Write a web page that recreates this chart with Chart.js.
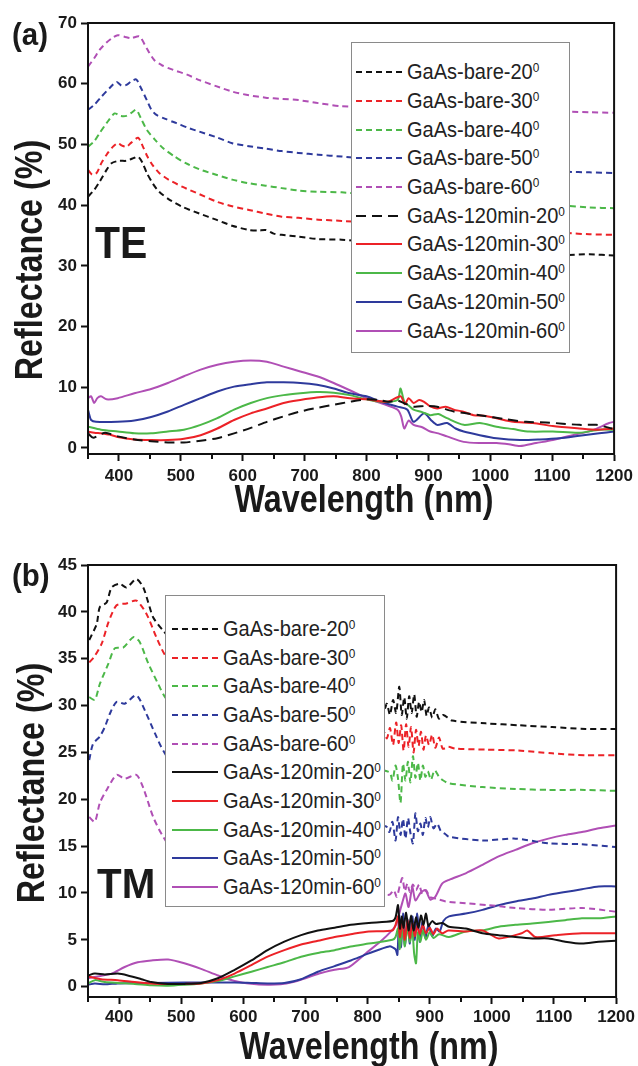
<!DOCTYPE html>
<html>
<head>
<meta charset="utf-8">
<title>GaAs reflectance TE / TM</title>
<script src="https://cdn.jsdelivr.net/npm/chart.js@4.4.0/dist/chart.umd.min.js"></script>
<style>
  body{margin:0;background:#fff;font-family:Arial,"Liberation Sans",sans-serif;}
  #page{position:relative;width:638px;height:1066px;overflow:hidden;background:#fff}
  .panel{position:absolute;left:0;width:638px}
  .txt{position:absolute;font-weight:bold;color:#1a1a1a;white-space:nowrap;line-height:1}
  .legend{position:absolute;background:#fff;border:1.5px solid #8a8a8a;box-sizing:border-box}
  .legend .row{display:flex;align-items:center;height:28.7px}
  .legend svg{flex:none}
  .legend .name{font-size:22px;color:#222;transform:scaleX(0.91);transform-origin:left center;white-space:nowrap}
  .legend sup{font-size:13px;vertical-align:7px}
</style>
</head>
<body>
<div id="page">
  <div class="panel" style="top:0;height:530px"><canvas id="chart-te"></canvas></div>
  <div class="panel" style="top:540px;height:526px"><canvas id="chart-tm"></canvas></div>

  <div class="txt" style="left:12px;top:18px;font-size:32px;transform:scaleX(0.92);transform-origin:left top">(a)</div>
  <div class="txt" style="left:95px;top:221px;font-size:44px;transform:scaleX(0.93);transform-origin:left top">TE</div>
  <div class="txt" style="left:28.5px;top:260px;font-size:38px;transform:translate(-50%,-50%) rotate(-90deg) scaleX(0.85)">Reflectance (%)</div>
  <div class="txt" style="left:364px;top:480px;font-size:38px;transform:translateX(-50%) scaleX(0.85)">Wavelength (nm)</div>

  <div class="txt" style="left:12px;top:559px;font-size:32px;transform:scaleX(0.92);transform-origin:left top">(b)</div>
  <div class="txt" style="left:97px;top:863px;font-size:42px;transform:scaleX(0.96);transform-origin:left top">TM</div>
  <div class="txt" style="left:30.5px;top:783px;font-size:38px;transform:translate(-50%,-50%) rotate(-90deg) scaleX(0.85)">Reflectance (%)</div>
  <div class="txt" style="left:369px;top:1027px;font-size:38px;transform:translateX(-50%) scaleX(0.85)">Wavelength (nm)</div>

  <div id="legend-te" class="legend" style="left:351px;top:42px;width:219px;height:311px;padding-top:15px"></div>
  <div id="legend-tm" class="legend" style="left:165px;top:595px;width:220px;height:312px;padding-top:18.5px"></div>
</div>

<script>
// GaAs reflectance vs wavelength, bare wafer vs 120 min etched, 20-60 deg incidence
// values, [wavelength nm, reflectance %]

// x axis (shared)
const xMajorTicks = [400,500,600,700,800,900,1000,1100,1200];
const xMinorTicks = [350,450,550,650,750,850,950,1050,1150];

// y axes
const yTicksTE = [0,10,20,30,40,50,60,70];
const yTicksTM = [0,5,10,15,20,25,30,35,40,45];

// ---- (a) TE ----
const teBare20 = [[350,41.4],[360,42.5],[369,43.9],[380,45.8],[388,46.9],[400,47.3],[412,47.3],[425,47.8],[431,48.0],[438,47.0],[445,45.3],[455,43.5],[465,42.2],[480,41.0],[503,39.7],[530,38.6],[557,37.6],[583,36.6],[610,35.9],[625,35.8],[637,35.9],[650,35.3],[663,35.1],[690,34.8],[722,34.4],[760,34.3],[850,33.5],[950,32.8],[1050,32.3],[1124,31.8],[1160,31.9],[1200,31.7]];
const teBare30 = [[350,45.8],[357,45.0],[364,45.3],[372,47.0],[380,48.3],[390,49.6],[398,50.2],[405,49.8],[412,49.6],[420,50.3],[431,51.1],[438,49.8],[446,48.0],[455,46.5],[465,45.3],[480,44.2],[503,43.0],[530,41.8],[557,40.6],[583,39.8],[610,39.2],[637,38.6],[663,38.1],[690,37.9],[722,37.6],[760,37.4],[850,36.8],[950,36.2],[1050,35.8],[1124,35.4],[1160,35.2],[1200,35.1]];
const teBare40 = [[350,49.6],[360,50.5],[369,51.9],[380,53.5],[393,55.1],[402,54.7],[412,54.7],[420,55.2],[428,55.7],[436,54.2],[445,52.4],[458,50.8],[471,49.4],[490,48.0],[508,46.9],[530,45.9],[557,45.0],[583,44.2],[610,43.6],[637,43.2],[663,42.8],[690,42.4],[722,42.2],[760,42.1],[850,41.3],[950,40.7],[1050,40.2],[1124,39.9],[1160,39.6],[1200,39.5]];
const teBare50 = [[350,55.7],[360,56.5],[372,57.9],[385,59.3],[396,60.3],[404,59.7],[412,59.8],[420,60.4],[428,60.7],[436,59.2],[445,57.3],[452,55.8],[460,54.9],[475,54.2],[493,53.5],[510,52.8],[530,52.1],[557,51.2],[583,50.2],[610,49.7],[637,49.3],[663,48.9],[690,48.6],[722,48.3],[760,48.0],[850,47.2],[950,46.4],[1050,45.9],[1124,45.5],[1160,45.4],[1200,45.3]];
const teBare60 = [[350,62.8],[360,64.2],[369,65.6],[380,66.8],[390,67.6],[398,68.0],[410,67.7],[420,67.5],[433,67.8],[445,65.8],[457,63.9],[470,63.0],[487,62.3],[510,61.5],[530,60.6],[557,59.6],[583,58.7],[610,58.1],[637,57.7],[663,57.5],[690,57.3],[722,56.8],[760,56.3],[850,56.0],[950,55.8],[1050,55.6],[1124,55.4],[1160,55.3],[1200,55.2]];
const te120_20 = [[350,2.4],[358,1.7],[366,2.0],[378,2.5],[398,1.9],[425,1.4],[452,1.1],[479,0.9],[505,0.9],[532,1.2],[559,1.6],[586,2.4],[613,3.3],[639,4.3],[666,5.2],[693,6.0],[720,6.6],[747,7.1],[773,7.6],[800,8.0],[820,7.9],[835,7.6],[850,7.8],[860,7.4],[876,6.8],[895,6.9],[914,6.8],[941,6.0],[983,5.4],[1026,4.7],[1058,4.3],[1090,4.2],[1117,4.0],[1144,3.8],[1171,3.8],[1197,3.2]];
const te120_30 = [[350,2.7],[360,2.5],[371,2.4],[385,2.2],[398,1.8],[425,1.4],[452,1.3],[479,1.3],[505,1.5],[532,2.1],[559,3.2],[586,4.6],[613,5.7],[639,6.5],[666,7.4],[693,7.9],[720,8.3],[747,8.5],[773,8.2],[800,8.0],[834,7.6],[855,8.5],[862,7.2],[868,8.2],[876,7.4],[885,7.9],[893,7.6],[902,6.9],[914,6.5],[928,6.8],[941,6.3],[955,6.0],[973,5.4],[990,5.3],[1010,4.9],[1037,4.3],[1069,4.1],[1101,3.6],[1144,3.2],[1171,3.0],[1200,3.2]];
const te120_40 = [[350,3.5],[371,3.0],[398,2.7],[425,2.4],[452,2.4],[479,2.7],[505,3.0],[532,3.8],[559,4.9],[586,6.3],[613,7.4],[639,8.2],[666,8.7],[693,9.0],[720,9.2],[747,9.1],[773,8.7],[800,8.0],[823,7.6],[850,7.9],[855,9.8],[861,7.6],[868,7.0],[876,6.3],[890,5.9],[903,5.4],[916,5.6],[930,4.9],[957,3.8],[983,4.1],[1010,3.5],[1037,3.1],[1063,2.7],[1101,2.7],[1144,2.5],[1176,3.0],[1200,3.0]];
const te120_50 = [[350,6.3],[352,5.5],[355,4.6],[363,4.3],[398,4.3],[425,4.5],[452,5.1],[479,6.0],[505,7.1],[532,8.2],[559,9.3],[586,10.1],[613,10.5],[639,10.8],[666,10.8],[693,10.7],[720,10.4],[747,9.8],[773,9.0],[800,8.5],[823,7.6],[850,6.8],[866,6.3],[876,4.3],[893,5.7],[904,4.6],[914,3.8],[930,4.1],[944,3.2],[957,2.7],[983,2.1],[1010,1.6],[1048,1.3],[1080,1.4],[1112,1.6],[1144,2.0],[1176,2.4],[1200,2.7]];
const te120_60 = [[350,8.2],[355,8.5],[360,7.4],[365,8.2],[371,8.5],[380,8.0],[398,8.2],[425,9.0],[452,9.7],[479,10.7],[505,11.8],[532,12.9],[559,13.7],[586,14.2],[613,14.4],[639,14.2],[666,13.4],[693,12.6],[720,11.8],[747,10.7],[773,9.5],[800,8.2],[823,7.4],[850,6.3],[856,5.2],[861,3.2],[868,4.5],[876,3.8],[890,3.4],[903,2.7],[916,2.4],[930,1.9],[957,1.0],[983,0.8],[1010,0.8],[1030,0.6],[1048,0.3],[1074,0.8],[1101,1.3],[1133,2.1],[1165,2.9],[1192,4.1],[1200,4.3]];

// ---- (b) TM ----
const tmBare20 = [[352,37.0],[364,38.7],[369,40.5],[380,41.0],[388,42.6],[401,43.0],[412,42.6],[428,43.5],[439,42.6],[447,41.0],[455,39.4],[471,38.0],[500,36.0],[600,32.5],[700,31.0],[800,30.0],[826,29.5],[831,30.2],[836,29.0],[841,30.6],[846,29.2],[851,32.0],[855,29.0],[859,30.9],[863,28.6],[867,31.0],[871,29.2],[875,31.2],[879,28.8],[883,30.4],[887,29.3],[891,30.6],[895,28.9],[899,29.8],[904,28.7],[909,29.6],[915,28.6],[922,29.0],[936,28.4],[990,28.1],[1043,27.9],[1097,27.7],[1151,27.5],[1200,27.5]];
const tmBare30 = [[352,34.6],[360,35.2],[372,36.6],[383,38.9],[396,40.7],[412,40.9],[428,41.2],[444,39.8],[460,37.3],[474,35.4],[500,33.5],[600,30.0],[700,28.3],[800,27.5],[826,27.2],[831,26.5],[836,27.6],[841,25.8],[846,28.2],[850,26.0],[854,27.9],[858,25.2],[862,28.0],[866,25.6],[870,27.7],[874,25.0],[878,27.4],[882,25.7],[886,27.2],[890,25.3],[894,26.8],[899,25.8],[904,26.9],[909,25.5],[915,26.6],[921,25.4],[930,25.6],[941,25.4],[990,25.3],[1043,25.2],[1097,24.9],[1151,24.7],[1200,24.7]];
const tmBare40 = [[352,30.9],[361,30.6],[369,32.3],[383,34.5],[393,36.1],[407,36.2],[423,37.3],[433,36.8],[447,34.5],[463,32.3],[474,30.9],[500,29.0],[600,25.5],[700,24.0],[800,23.3],[835,22.9],[840,22.0],[845,23.6],[849,22.2],[853,19.6],[857,23.8],[861,22.0],[865,24.0],[869,21.8],[873,24.6],[877,22.3],[881,23.9],[885,22.0],[889,23.6],[893,22.4],[897,23.0],[902,22.1],[908,23.1],[915,22.4],[922,22.0],[931,21.7],[985,21.3],[1038,21.1],[1091,21.0],[1150,21.0],[1200,20.9]];
const tmBare50 = [[352,24.2],[358,25.9],[369,26.7],[377,27.7],[385,29.1],[396,30.4],[409,30.2],[428,31.1],[444,29.1],[458,27.0],[471,25.2],[500,22.5],[600,19.5],[700,18.0],[800,17.3],[830,17.1],[835,16.5],[840,17.6],[845,15.6],[849,18.1],[853,16.2],[857,17.9],[861,15.8],[865,18.0],[869,16.4],[873,15.3],[877,18.5],[881,16.6],[885,17.4],[889,16.2],[893,18.0],[897,17.0],[901,18.1],[906,16.9],[912,17.4],[918,16.6],[925,16.3],[931,16.0],[985,15.6],[1038,15.8],[1091,15.3],[1145,15.2],[1200,14.9]];
const tmBare60 = [[352,18.1],[361,17.6],[369,19.6],[380,21.0],[396,22.6],[409,22.2],[428,22.6],[439,21.2],[455,18.1],[471,16.0],[500,13.5],[600,11.0],[700,10.3],[800,10.0],[835,9.8],[842,10.3],[847,9.6],[852,10.8],[856,11.6],[860,10.2],[864,11.0],[868,10.1],[873,10.9],[878,10.3],[883,10.9],[888,9.9],[894,10.3],[900,9.6],[910,9.4],[926,9.1],[958,8.9],[995,8.7],[1038,8.4],[1092,8.2],[1145,8.4],[1200,8.0]];
const tm120_20 = [[350,1.2],[361,1.4],[377,1.3],[398,1.4],[414,1.2],[436,0.8],[452,0.5],[479,0.3],[505,0.3],[532,0.4],[559,0.9],[586,1.8],[613,2.8],[639,3.9],[666,4.8],[693,5.5],[720,6.0],[747,6.3],[773,6.6],[802,6.8],[840,7.0],[845,7.4],[849,8.7],[852,6.2],[855,7.5],[858,6.3],[862,7.9],[866,6.0],[870,7.6],[874,6.0],[878,7.4],[882,6.3],[886,7.6],[890,6.6],[894,7.8],[898,6.5],[904,7.0],[910,6.7],[920,6.8],[931,6.4],[958,6.2],[985,5.7],[1011,5.5],[1038,5.3],[1065,5.15],[1091,5.15],[1118,4.8],[1145,4.6],[1172,4.8],[1200,4.9]];
const tm120_30 = [[350,1.1],[371,0.8],[398,0.7],[425,0.5],[452,0.35],[479,0.3],[505,0.3],[532,0.35],[559,0.7],[586,1.4],[613,2.3],[639,3.2],[666,3.9],[693,4.5],[720,4.9],[747,5.3],[773,5.6],[802,5.9],[840,6.0],[845,6.6],[849,7.5],[852,5.3],[856,7.0],[860,5.0],[864,7.1],[868,5.2],[872,6.8],[876,5.4],[880,6.5],[884,5.6],[889,6.6],[894,5.7],[900,6.3],[906,5.6],[912,6.2],[920,5.7],[930,6.0],[958,5.9],[985,6.0],[1011,5.15],[1048,5.7],[1057,6.0],[1070,5.3],[1102,5.5],[1145,5.7],[1200,5.7]];
const tm120_40 = [[350,0.35],[361,0.7],[377,0.5],[398,0.4],[425,0.3],[452,0.15],[479,0.1],[505,0.2],[532,0.35],[559,0.6],[586,1.1],[613,1.6],[639,2.1],[666,2.6],[693,3.2],[720,3.6],[747,3.9],[773,4.3],[802,4.6],[840,5.0],[845,5.3],[849,6.2],[852,4.0],[856,6.3],[860,4.3],[864,6.4],[868,4.8],[872,6.0],[875,3.5],[878,2.5],[881,5.8],[885,4.8],[889,6.0],[894,5.0],[900,5.8],[906,5.2],[915,5.6],[931,5.3],[958,5.9],[985,6.0],[1011,6.4],[1038,6.6],[1065,6.75],[1091,6.9],[1118,7.1],[1145,7.3],[1172,7.3],[1200,7.5]];
const tm120_50 = [[350,0.2],[361,0.35],[377,0.25],[398,0.35],[452,0.4],[505,0.45],[559,0.45],[586,0.45],[613,0.4],[639,0.35],[666,0.4],[693,0.8],[720,1.6],[747,2.2],[773,2.8],[802,3.55],[835,4.3],[845,4.0],[848,3.4],[851,7.6],[854,4.2],[857,7.8],[860,4.4],[864,7.2],[868,4.6],[872,7.5],[876,5.0],[880,7.8],[884,4.8],[888,6.9],[893,5.2],[898,6.6],[904,5.4],[910,6.2],[916,5.9],[922,7.0],[931,7.5],[958,7.8],[985,8.2],[1011,8.7],[1038,9.1],[1065,9.4],[1091,9.8],[1118,10.1],[1145,10.4],[1172,10.7],[1200,10.7]];
const tm120_60 = [[350,0.9],[366,1.1],[388,1.4],[409,2.1],[430,2.6],[452,2.8],[479,2.9],[505,2.5],[532,1.9],[559,1.2],[586,0.6],[613,0.3],[639,0.2],[660,0.25],[680,0.5],[700,0.9],[722,1.4],[747,1.8],[770,2.1],[797,3.55],[824,5.0],[845,6.5],[851,7.8],[856,9.0],[861,9.95],[866,8.5],[872,10.6],[877,9.2],[885,10.0],[893,10.3],[901,9.3],[909,9.6],[920,11.0],[931,11.4],[958,12.1],[985,13.0],[1011,13.9],[1038,14.6],[1065,15.3],[1091,15.8],[1118,16.2],[1145,16.5],[1172,16.9],[1200,17.2]];

// colours / dash styles
const BLACK = "#111111", RED = "#ec2227", GREEN = "#4cb848", BLUE = "#2e3a9c", MAGENTA = "#b04fb5";
const DASH_BARE = [6,4];
const DASH_LONG = [10,6];

const teSeries = [
  { label: "GaAs-bare-20", color: BLACK, dash: DASH_BARE, data: teBare20 },
  { label: "GaAs-bare-30", color: RED, dash: DASH_BARE, data: teBare30 },
  { label: "GaAs-bare-40", color: GREEN, dash: DASH_BARE, data: teBare40 },
  { label: "GaAs-bare-50", color: BLUE, dash: DASH_BARE, data: teBare50 },
  { label: "GaAs-bare-60", color: MAGENTA, dash: DASH_BARE, data: teBare60 },
  { label: "GaAs-120min-20", color: BLACK, dash: DASH_LONG, data: te120_20 },
  { label: "GaAs-120min-30", color: RED, dash: null, data: te120_30 },
  { label: "GaAs-120min-40", color: GREEN, dash: null, data: te120_40 },
  { label: "GaAs-120min-50", color: BLUE, dash: null, data: te120_50 },
  { label: "GaAs-120min-60", color: MAGENTA, dash: null, data: te120_60 },
];
const tmSeries = [
  { label: "GaAs-bare-20", color: BLACK, dash: DASH_BARE, data: tmBare20 },
  { label: "GaAs-bare-30", color: RED, dash: DASH_BARE, data: tmBare30 },
  { label: "GaAs-bare-40", color: GREEN, dash: DASH_BARE, data: tmBare40 },
  { label: "GaAs-bare-50", color: BLUE, dash: DASH_BARE, data: tmBare50 },
  { label: "GaAs-bare-60", color: MAGENTA, dash: DASH_BARE, data: tmBare60 },
  { label: "GaAs-120min-20", color: BLACK, dash: null, data: tm120_20 },
  { label: "GaAs-120min-30", color: RED, dash: null, data: tm120_30 },
  { label: "GaAs-120min-40", color: GREEN, dash: null, data: tm120_40 },
  { label: "GaAs-120min-50", color: BLUE, dash: null, data: tm120_50 },
  { label: "GaAs-120min-60", color: MAGENTA, dash: null, data: tm120_60 },
];

const FONT_FAMILY = "Arial, 'Liberation Sans', sans-serif";

// box round the plot area + short minor ticks on the wavelength axis
const framePlugin = {
  id: "frame",
  afterDraw(chart){
    const { ctx, chartArea: a } = chart;
    const sx = chart.scales.x;
    ctx.save();
    ctx.strokeStyle = "#111";
    ctx.lineWidth = 2;
    ctx.strokeRect(a.left, a.top, a.right - a.left, a.bottom - a.top);
    xMinorTicks.forEach(v => {
      const px = Math.round(sx.getPixelForValue(v));
      ctx.beginPath();
      ctx.moveTo(px, a.bottom);
      ctx.lineTo(px, a.bottom + 5);
      ctx.stroke();
    });
    ctx.restore();
  }
};

function buildDatasets(series){
  return series.map(s => ({
    label: s.label,
    data: s.data.map(p => ({ x: p[0], y: p[1] })),
    borderColor: s.color,
    borderWidth: 2,
    borderDash: s.dash || [],
    pointRadius: 0,
    tension: 0.25,
    fill: false
  }));
}

function makeChart(id, series, yMin, yMax, yTicks, xAxisHeight, topPad, xLabelPad){
  const ctx = document.getElementById(id).getContext("2d");
  return new Chart(ctx, {
    type: "line",
    data: { datasets: buildDatasets(series) },
    options: {
      animation: false,
      responsive: true,
      maintainAspectRatio: false,
      layout: { padding: { top: topPad, right: 20, left: 0, bottom: 0 } },
      plugins: { legend: { display: false }, tooltip: { enabled: false } },
      scales: {
        x: {
          type: "linear", min: 350, max: 1200,
          afterBuildTicks: sc => { sc.ticks = xMajorTicks.map(v => ({ value: v })); },
          afterFit: sc => { sc.height = xAxisHeight; },
          ticks: {
            autoSkip: false, maxRotation: 0, padding: xLabelPad, color: "#1a1a1a",
            font: { family: FONT_FAMILY, size: 17, weight: "bold" },
            callback: v => String(v)
          },
          grid: { drawOnChartArea: false, tickLength: 7, tickWidth: 2, tickColor: "#111" },
          border: { width: 2, color: "#111" }
        },
        y: {
          min: yMin, max: yMax,
          afterBuildTicks: sc => { sc.ticks = yTicks.map(v => ({ value: v })); },
          afterFit: sc => { sc.width = 88; },
          ticks: {
            padding: 4, color: "#1a1a1a",
            font: { family: FONT_FAMILY, size: 17, weight: "bold" },
            callback: v => String(v)
          },
          grid: { drawOnChartArea: false, tickLength: 7, tickWidth: 2, tickColor: "#111" },
          border: { width: 2, color: "#111" }
        }
      }
    },
    plugins: [framePlugin]
  });
}

// html legend (superscript degree mark)
function buildLegend(elId, series, inset, gap){
  const el = document.getElementById(elId);
  series.forEach(s => {
    const row = document.createElement("div");
    row.className = "row";
    const dash = s.dash ? s.dash.join(" ") : "none";
    row.innerHTML =
      `<svg width="${inset + 46}" height="6"><line x1="${inset}" y1="3" x2="${inset + 46}" y2="3" stroke="${s.color}" stroke-width="2" stroke-dasharray="${dash}"/></svg>` +
      `<span class="name" style="margin-left:${gap}px">${s.label}<sup>0</sup></span>`;
    el.appendChild(row);
  });
}

makeChart("chart-te", teSeries, -1, 70, yTicksTE, 76, 23, 5);
makeChart("chart-tm", tmSeries, -1.1, 45, yTicksTM, 69, 25, 3);
buildLegend("legend-te", teSeries, 4, 5);
buildLegend("legend-tm", tmSeries, 6, 5);
</script>
</body>
</html>
